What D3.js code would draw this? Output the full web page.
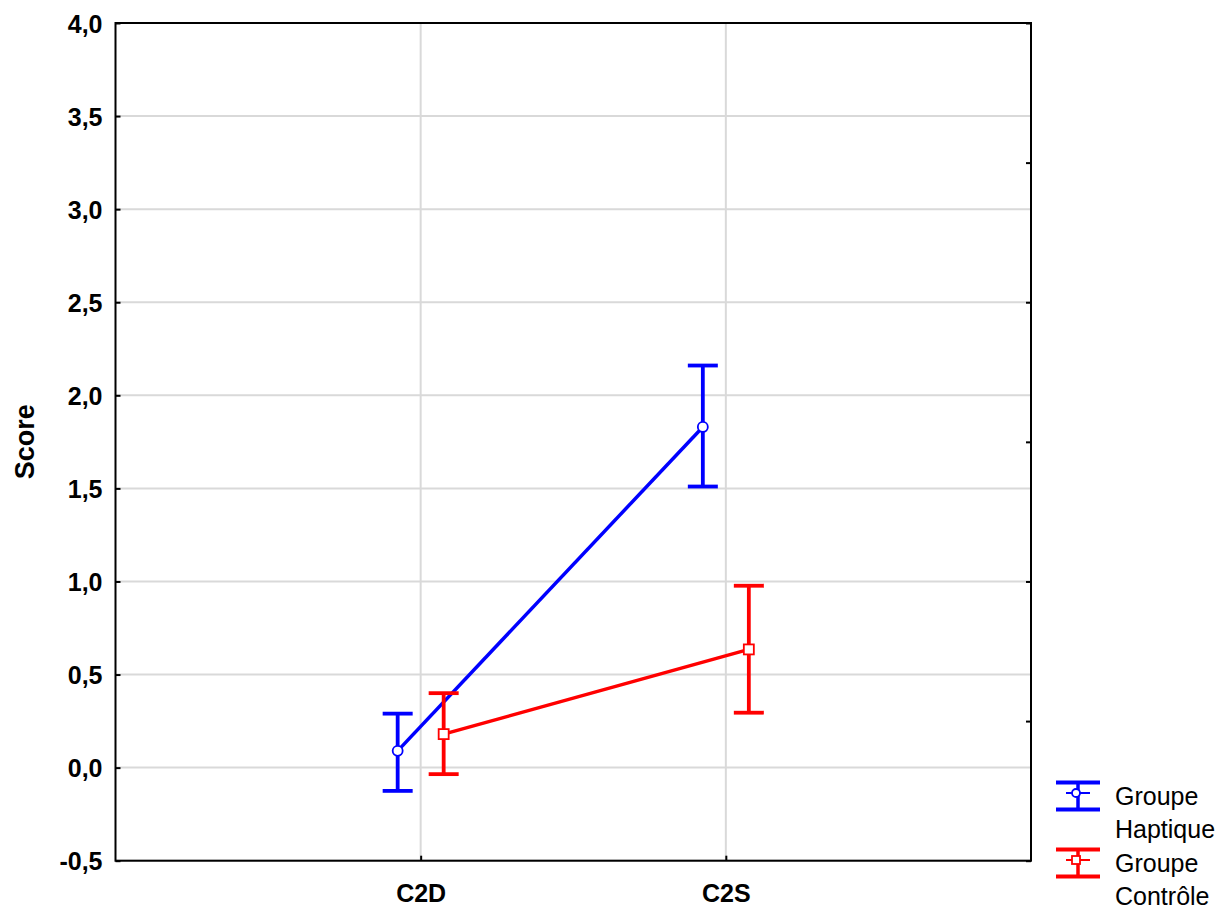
<!DOCTYPE html>
<html>
<head>
<meta charset="utf-8">
<script src="https://cdn.jsdelivr.net/npm/d3@7"></script>
<style>
html,body{margin:0;padding:0;background:#fff;}
svg{display:block;}
text{font-family:"Liberation Sans", Arial, sans-serif;}
</style>
</head>
<body>
<svg id="chart" width="1224" height="912"></svg>
<script>
const categories = ["C2D", "C2S"];
const seriesNames = ["Groupe Haptique", "Groupe Contrôle"];
const legendLines = [["Groupe", "Haptique"], ["Groupe", "Contrôle"]];
const hapticMean = [0.09, 1.83];
const hapticLow = [-0.125, 1.51];
const hapticHigh = [0.29, 2.16];
const controlMean = [0.18, 0.635];
const controlLow = [-0.035, 0.295];
const controlHigh = [0.40, 0.977];
const yTicks = [-0.5, 0, 0.5, 1.0, 1.5, 2.0, 2.5, 3.0, 3.5, 4.0];
const yLabel = "Score";

const series = [
  {mean: hapticMean, low: hapticLow, high: hapticHigh, color: "#0000ff", marker: "circle", offset: -23},
  {mean: controlMean, low: controlLow, high: controlHigh, color: "#ff0000", marker: "square", offset: 23}
];

const svg = d3.select("#chart");
const L = 115.5, R = 1031, T = 23, B = 860.7;

const x = d3.scalePoint().domain(categories).range([L, R]).padding(1);
const y = d3.scaleLinear().domain([-0.5, 4]).range([B, T]);
const fmt = d => d.toFixed(1).replace(".", ",");

// grid
svg.append("g").selectAll("line").data(yTicks).join("line")
  .attr("x1", L).attr("x2", R).attr("y1", d => y(d)).attr("y2", d => y(d))
  .attr("stroke", "#d9d9d9").attr("stroke-width", 2);
svg.append("g").selectAll("line").data(categories).join("line")
  .attr("x1", d => x(d)).attr("x2", d => x(d)).attr("y1", T).attr("y2", B)
  .attr("stroke", "#d9d9d9").attr("stroke-width", 2);

// axes (inward ticks)
const yAxis = d3.axisLeft(y).tickValues(yTicks).tickSize(-5).tickPadding(13).tickFormat(fmt);
const gy = svg.append("g").attr("transform", `translate(${L},0)`).call(yAxis);
gy.attr("font-family", null).attr("font-size", null);
gy.select(".domain").remove();
gy.selectAll(".tick line").attr("stroke", "#000").attr("stroke-width", 2);
gy.selectAll(".tick text").style("font-size", "25px").style("font-weight", "bold").attr("fill", "#000")
  .attr("dy", "0.36em");

const xAxis = d3.axisBottom(x).tickSize(-5).tickPadding(24);
const gx = svg.append("g").attr("transform", `translate(0,${B})`).call(xAxis);
gx.attr("font-family", null).attr("font-size", null);
gx.select(".domain").remove();
gx.selectAll(".tick line").attr("stroke", "#000").attr("stroke-width", 2);
gx.selectAll(".tick text").style("font-size", "25px").style("font-weight", "bold").attr("fill", "#000");

const yRight = d3.scaleLinear().domain([0, 6]).range([B, T]);
const gr = svg.append("g").attr("transform", `translate(${R},0)`)
  .call(d3.axisRight(yRight).ticks(6).tickSize(-5).tickFormat(""));
gr.select(".domain").remove();
gr.selectAll(".tick line").attr("stroke", "#000").attr("stroke-width", 2);

// frame
svg.append("rect").attr("x", L).attr("y", T).attr("width", R - L).attr("height", B - T)
  .attr("fill", "none").attr("stroke", "#000").attr("stroke-width", 2);

// y label
svg.append("text").attr("transform", `translate(34,${(T + B) / 2}) rotate(-90)`)
  .attr("text-anchor", "middle").style("font-size", "27px").style("font-weight", "bold").text(yLabel);

// series
series.forEach(s => {
  const g = svg.append("g");
  const cx = i => x(categories[i]) + s.offset;
  const idx = d3.range(categories.length);
  g.append("path").datum(idx)
    .attr("d", d3.line().x(i => cx(i)).y(i => y(s.mean[i])))
    .attr("fill", "none").attr("stroke", s.color).attr("stroke-width", 3.5);
  g.selectAll(".eb").data(idx).join("line")
    .attr("x1", cx).attr("x2", cx).attr("y1", i => y(s.low[i])).attr("y2", i => y(s.high[i]))
    .attr("stroke", s.color).attr("stroke-width", 3.8);
  ["low", "high"].forEach(k => {
    g.selectAll(".cap" + k).data(idx).join("line")
      .attr("x1", i => cx(i) - 15).attr("x2", i => cx(i) + 15)
      .attr("y1", i => y(s[k][i])).attr("y2", i => y(s[k][i]))
      .attr("stroke", s.color).attr("stroke-width", 3.8);
  });
  if (s.marker === "circle") {
    g.selectAll("circle").data(idx).join("circle")
      .attr("cx", cx).attr("cy", i => y(s.mean[i])).attr("r", 5)
      .attr("fill", "#fff").attr("stroke", s.color).attr("stroke-width", 1.8);
  } else {
    g.selectAll("rect").data(idx).join("rect")
      .attr("x", i => cx(i) - 5).attr("y", i => y(s.mean[i]) - 5).attr("width", 10).attr("height", 10)
      .attr("fill", "#fff").attr("stroke", s.color).attr("stroke-width", 1.8);
  }
});

// legend
const lg = svg.append("g");
series.forEach((s, k) => {
  const cy = 796 + k * 67;
  const g = lg.append("g");
  [-13.5, 13.5].forEach(dy => g.append("line").attr("x1", 1056).attr("x2", 1100)
    .attr("y1", cy + dy).attr("y2", cy + dy).attr("stroke", s.color).attr("stroke-width", 4));
  g.append("line").attr("x1", 1078).attr("x2", 1078).attr("y1", cy - 13.5).attr("y2", cy + 13.5)
    .attr("stroke", s.color).attr("stroke-width", 3.5);
  g.append("line").attr("x1", 1066).attr("x2", 1090).attr("y1", cy - 3).attr("y2", cy - 3)
    .attr("stroke", s.color).attr("stroke-width", 2);
  if (s.marker === "circle") {
    g.append("circle").attr("cx", 1076).attr("cy", cy - 3).attr("r", 4)
      .attr("fill", "#fff").attr("stroke", s.color).attr("stroke-width", 1.8);
  } else {
    g.append("rect").attr("x", 1072).attr("y", cy - 7).attr("width", 8).attr("height", 8)
      .attr("fill", "#fff").attr("stroke", s.color).attr("stroke-width", 1.8);
  }
  legendLines[k].forEach((t, j) => {
    g.append("text").attr("x", 1115).attr("y", cy + 9 + j * 33)
      .style("font-size", "25px").attr("fill", "#000").text(t);
  });
});
</script>
</body>
</html>
